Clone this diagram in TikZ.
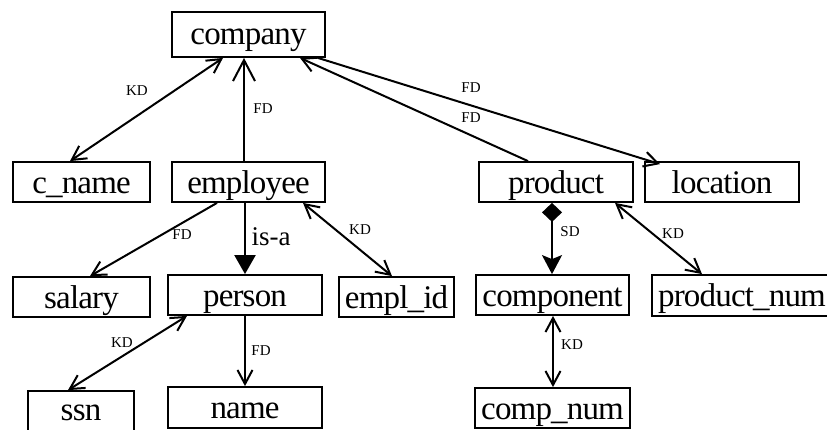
\documentclass[tikz,border=0pt]{standalone}
\usepackage{fontspec}
\setmainfont{Liberation Serif}
\newfontfamily\boxfont[LetterSpace=-2.5]{Liberation Serif}
\usetikzlibrary{arrows.meta}

\begin{document}
\begin{tikzpicture}[x=1pt,y=-1pt,
  box/.style={draw,line width=1.8pt,inner sep=0pt,minimum height=40pt,
    text height=26pt,text depth=4pt,font=\boxfont\fontsize{33}{33}\selectfont},
  lbl/.style={inner sep=0pt,font=\fontsize{15}{15}\selectfont},
  isalbl/.style={inner sep=0pt,font=\fontsize{27}{27}\selectfont},
  link/.style={line width=2pt},
  open/.style={-{Straight Barb[length=14pt,width=15pt]}},
  bothopen/.style={{Straight Barb[length=14pt,width=15pt]}-{Straight Barb[length=14pt,width=15pt]}},
  bigopen/.style={-{Straight Barb[length=21pt,width=22pt]}},
  isa/.style={-{Triangle[length=19pt,width=21pt]}},
  sd/.style={{Diamond[length=19pt,width=20pt]}-{Stealth[length=19pt,width=20pt,inset=4pt]}},
]
\useasboundingbox (0,0) rectangle (827,429);

% entity boxes
\node[box,minimum width=153pt,minimum height=45pt,text depth=6pt] (company) at (248.5,34.5) {company};
\node[box,minimum width=137pt] (cname) at (81.5,182) {c\_name};
\node[box,minimum width=153pt] (employee) at (248.5,182) {employee};
\node[box,minimum width=154pt] (product) at (556,182) {product};
\node[box,minimum width=154pt] (location) at (722,182) {location};
\node[box,minimum width=137pt] (salary) at (81.5,297) {salary};
\node[box,minimum width=154pt] (person) at (245,295) {person};
\node[box,minimum width=115pt] (emplid) at (396.5,297) {empl\_id};
\node[box,minimum width=153pt] (component) at (552.5,295) {component};
\node[box,minimum width=180pt,minimum height=41pt] (productnum) at (742,295.5) {product\_num};
\node[box,minimum width=106pt,minimum height=44pt,text depth=12pt] (ssn) at (81,413) {ssn};
\node[box,minimum width=154pt,minimum height=41pt] (name) at (245,407.5) {name};
\node[box,minimum width=155pt] (compnum) at (552.5,408) {comp\_num};

% dependencies
\draw[link,bothopen] ([xshift=-25.5pt]company.south) -- ([xshift=-11.5pt]cname.north);
\draw[link,bigopen] ([xshift=-4.5pt]employee.north) -- ([xshift=-4.5pt]company.south);
\draw[link,open] ([xshift=-8pt]company.south east) -- ([xshift=-62pt,yshift=-3pt]location.north);
\draw[link,open] ([xshift=-28pt]product.north) -- ([xshift=51.5pt]company.south);
\draw[link,open] ([xshift=-31.5pt]employee.south) -- ([xshift=8.5pt]salary.north);
\draw[link,isa] ([xshift=-3.5pt]employee.south) -- (person.north);
\draw[link,bothopen] ([xshift=54.5pt]employee.south) -- ([xshift=-4.5pt]emplid.north);
\draw[link,sd] ([xshift=-4pt]product.south) -- ([xshift=-0.5pt]component.north);
\draw[link,bothopen] ([xshift=59pt]product.south) -- ([xshift=-40pt]productnum.north);
\draw[link,bothopen] ([xshift=-58pt]person.south) -- ([xshift=-13pt]ssn.north);
\draw[link,open] (person.south) -- (name.north);
\draw[link,bothopen] ([xshift=0.5pt]component.south) -- ([xshift=0.5pt]compnum.north);

% dependency labels
\node[lbl] (l-cname) at (137,91) {KD};
\node[lbl] (l-employee) at (263,109) {FD};
\node[lbl] (l-location) at (471,88) {FD};
\node[lbl] (l-product) at (471,118) {FD};
\node[lbl] (l-salary) at (182,235) {FD};
\node[isalbl] (l-isa) at (271,237) {is-a};
\node[lbl] (l-emplid) at (360,230) {KD};
\node[lbl] (l-sd) at (570,232) {SD};
\node[lbl] (l-productnum) at (673,234) {KD};
\node[lbl] (l-ssn) at (122,343) {KD};
\node[lbl] (l-name) at (261,351) {FD};
\node[lbl] (l-compnum) at (572,345) {KD};
\end{tikzpicture}
\end{document}
